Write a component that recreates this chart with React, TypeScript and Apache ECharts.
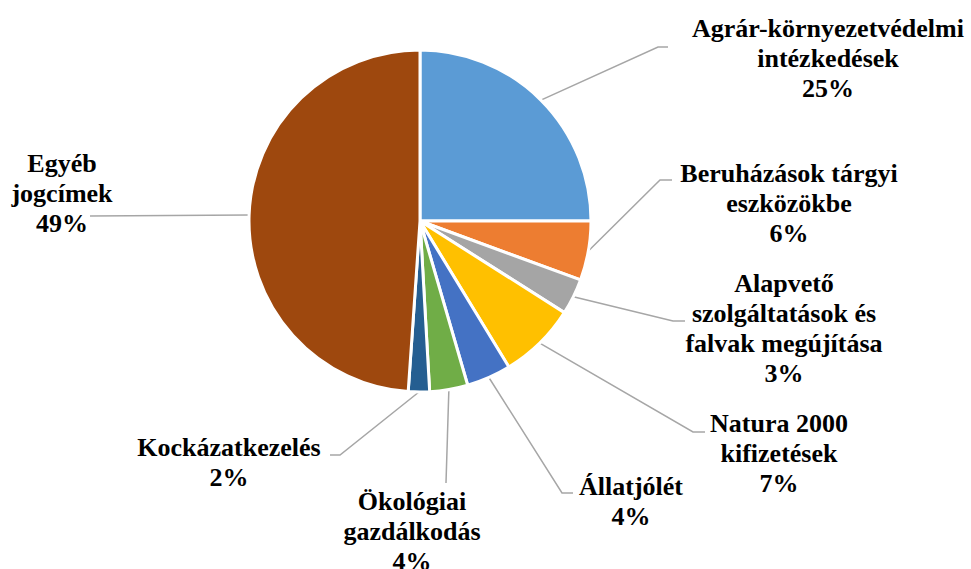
import React, { useEffect, useRef } from "react";
import * as echarts from "echarts";

const categories = [
  "Agrár-környezetvédelmi intézkedések",
  "Beruházások tárgyi eszközökbe",
  "Alapvető szolgáltatások és falvak megújítása",
  "Natura 2000 kifizetések",
  "Állatjólét",
  "Ökológiai gazdálkodás",
  "Kockázatkezelés",
  "Egyéb jogcímek",
];
const labelTexts = [
  "Agrár-környezetvédelmi\nintézkedések",
  "Beruházások tárgyi\neszközökbe",
  "Alapvető\nszolgáltatások és\nfalvak megújítása",
  "Natura 2000\nkifizetések",
  "Állatjólét",
  "Ökológiai\ngazdálkodás",
  "Kockázatkezelés",
  "Egyéb\njogcímek",
];
const values = [25.0, 5.6, 3.4, 7.3, 4.2, 3.6, 2.0, 48.9];
const colors = ["#5B9BD5", "#ED7D31", "#A5A5A5", "#FFC000", "#4472C4", "#70AD47", "#255E91", "#9E480E"];

// label layout (block centre) and leader line ends [elbowX, endX, y]
const labelCenters: number[][] = [
  [828, 58],
  [789, 203],
  [784, 328],
  [779, 453],
  [631, 501],
  [412, 531],
  [229, 462],
  [62, 193],
];
const leaderEnds: (number[] | null)[] = [
  [658, 668, 47],
  [660, 672, 180],
  [673, 685, 321],
  [693, 705, 432],
  [562, 573, 493],
  [446, 446, 483],
  [340, 330, 455],
  [90, 90, 216],
];

export default function App() {
  const ref = useRef<HTMLDivElement>(null);
  useEffect(() => {
    document.body.style.margin = "0";
    const chart = echarts.init(ref.current!, null, { renderer: "svg" });
    chart.setOption({
      animation: false,
      backgroundColor: "#ffffff",
      series: [
        {
          type: "pie",
          center: [420, 221],
          radius: 171,
          startAngle: 90,
          clockwise: true,
          avoidLabelOverlap: false,
          data: categories.map((c, i) => ({
            name: c,
            value: values[i],
            itemStyle: { color: colors[i] },
          })),
          itemStyle: { borderColor: "#ffffff", borderWidth: 3 },
          label: {
            show: true,
            position: "outside",
            width: 320,
            overflow: "none",
            fontFamily: "Liberation Serif",
            fontWeight: "bold",
            fontSize: 26,
            lineHeight: 30,
            color: "#000000",
            align: "center",
            formatter: (p: any) => labelTexts[p.dataIndex] + "\n" + Math.round(p.value) + "%",
          },
          labelLine: {
            show: true,
            length: 10,
            length2: 10,
            lineStyle: { color: "#A6A6A6", width: 1.5 },
          },
          labelLayout: (params: any) => {
            const i = params.dataIndex;
            const c = labelCenters[i];
            const e = leaderEnds[i];
            const p0 = params.labelLinePoints ? params.labelLinePoints[0] : null;
            const out: any = { x: c[0], y: c[1], align: "center", verticalAlign: "middle" };
            if (p0 && e) {
              out.labelLinePoints = [p0, [e[0], e[2]], [e[1], e[2]]];
            }
            return out;
          },
        },
      ],
    });
    return () => chart.dispose();
  }, []);
  return <div ref={ref} style={{ width: 971, height: 569 }} />;
}
